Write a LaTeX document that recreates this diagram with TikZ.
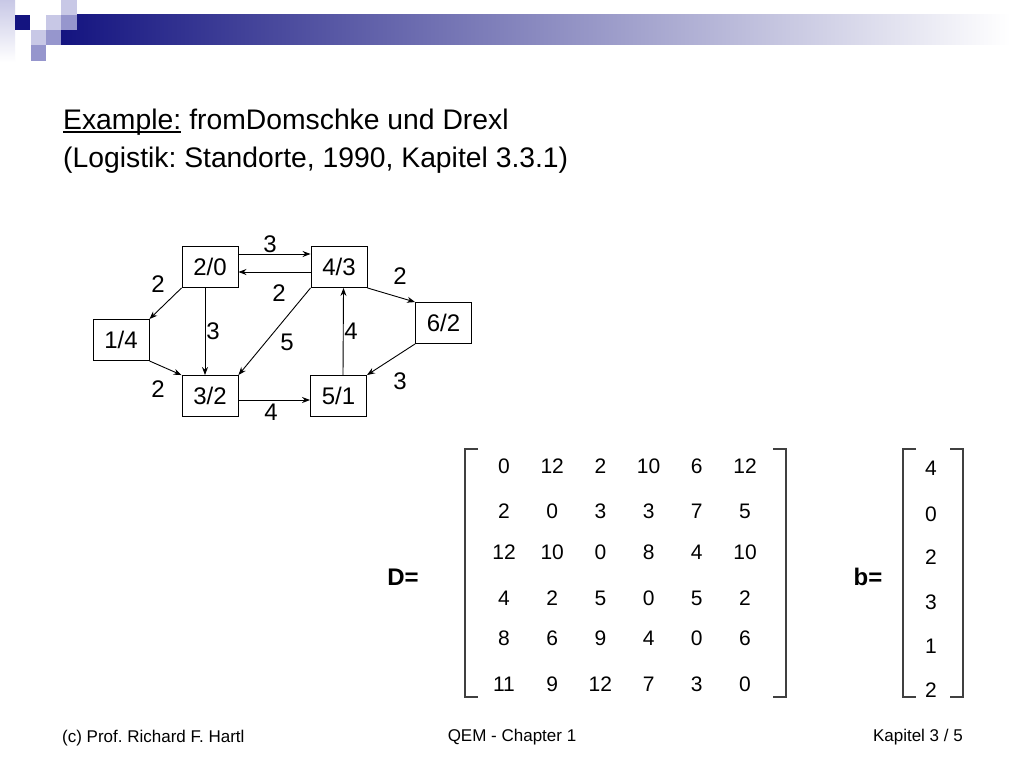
\documentclass[tikz,border=0pt]{standalone}
\usepackage{fontspec}
\setmainfont{Liberation Sans}
\usetikzlibrary{arrows.meta}
\definecolor{navy}{RGB}{20,20,128}
\definecolor{lav}{RGB}{200,200,230}
\definecolor{midlav}{RGB}{150,150,205}
\frenchspacing
\begin{document}
\begin{tikzpicture}[x=1pt,y=-1pt,
  vbox/.style={draw, line width=0.9pt, minimum width=56pt, minimum height=41pt, inner sep=0pt, font=\fontsize{24}{28}\selectfont},
  elab/.style={font=\fontsize{24}{28}\selectfont, inner sep=0pt},
  arc/.style={line width=0.9pt, -{Stealth[length=8pt,width=6pt]}},
  ment/.style={font=\fontsize{21}{24}\selectfont, inner sep=0pt},
  brk/.style={line width=1.2pt, black!75},
  ttl/.style={font=\fontsize{28.3}{32}\selectfont, inner sep=0pt, anchor=base west},
  foot/.style={font=\fontsize{17}{19}\selectfont, inner sep=0pt},
  mlab/.style={font=\bfseries\fontsize{24}{28}\selectfont, inner sep=0pt}
]
\useasboundingbox (0,0) rectangle (1024,768);
\fill[white] (0,0) rectangle (1024,768);
% header decoration
\shade[left color=navy, right color=white] (61,15) rectangle (1010,45);
\shade[top color=lav, bottom color=white] (0,0) rectangle (15,62);
\fill[navy] (15,15) rectangle (30,30);
\fill[lav] (46,15) rectangle (61,30);
\fill[lav] (61,0) rectangle (77,15);
\fill[midlav] (61,15) rectangle (77,30);
\fill[lav] (31,30) rectangle (46,45);
\fill[midlav] (46,30) rectangle (61,45);
\fill[midlav] (31,45) rectangle (46,61);
% title
\node[ttl] (t1a) at (63,129) {Example:};
\node[ttl] (t1b) at ([xshift=7.8pt]t1a.base east) {fromDomschke und Drexl};
\draw[line width=1.3pt] ([yshift=-3pt]t1a.base west) -- ([yshift=-3pt]t1a.base east);
\node[ttl] (t2) at (63,167) {(Logistik: Standorte, 1990, Kapitel 3.3.1)};
% graph nodes
\node[vbox] (n20) at (210,267) {2/0};
\node[vbox] (n43) at (339,267) {4/3};
\node[vbox] (n14) at (121,340) {1/4};
\node[vbox] (n62) at (443.5,323) {6/2};
\node[vbox] (n32) at (210,396) {3/2};
\node[vbox] (n51) at (338.5,396) {5/1};
% edges
\draw[arc] ([yshift=13pt]n20.east) -- ([yshift=13pt]n43.west);
\draw[arc] ([yshift=-5pt]n43.west) -- ([yshift=-5pt]n20.east);
\draw[arc] (n20.south west) -- (n14.north east);
\draw[arc] ([xshift=-5pt]n20.south) -- ([xshift=-5pt]n32.north);
\draw[arc] (n14.south east) -- (n32.north west);
\draw[arc] (n43.south west) -- (n32.north east);
\draw[arc] ([xshift=4.5pt]n51.north) -- ([xshift=4.5pt]n43.south);
\draw[arc] (n43.south east) -- (n62.north west);
\draw[arc] (n62.south west) -- (n51.north east);
\draw[arc] ([yshift=-4pt]n32.east) -- ([yshift=-4pt]n51.west);
% edge labels
\node[elab] (l1) at (270,244) {3};
\node[elab] (l2) at (279,293) {2};
\node[elab] (l3) at (158,284) {2};
\node[elab] (l4) at (213,331) {3};
\node[elab] (l5) at (287,342) {5};
\node[elab] (l6) at (351,331) {4};
\node[elab] (l7) at (400,276) {2};
\node[elab] (l8) at (400,381) {3};
\node[elab] (l9) at (158,389) {2};
\node[elab] (l10) at (271,412) {4};
% matrix D
\node[mlab] (dlab) at (403,577) {D=};
\draw[brk] (478,449) -- (465,449) -- (465,697) -- (478,697);
\draw[brk] (773,449) -- (786,449) -- (786,697) -- (773,697);
\foreach \r/\y/\vals in {1/466/{0,12,2,10,6,12}, 2/511/{2,0,3,3,7,5}, 3/552/{12,10,0,8,4,10}, 4/598/{4,2,5,0,5,2}, 5/638/{8,6,9,4,0,6}, 6/684/{11,9,12,7,3,0}}{
  \foreach \v [count=\c] in \vals {
    \pgfmathsetmacro{\xx}{504+48.2*(\c-1)}
    \node[ment] (d\r\c) at (\xx,\y) {\v};
  }
}
% vector b
\node[mlab] (blab) at (868,577) {b=};
\draw[brk] (916,449) -- (903,449) -- (903,697) -- (916,697);
\draw[brk] (950,449) -- (963,449) -- (963,697) -- (950,697);
\foreach \v/\y [count=\r] in {4/468,0/514,2/557,3/602,1/646,2/690}{
  \node[ment] (b\r) at (931,\y) {\v};
}
% footer
\node[foot, anchor=west] (f1) at (62,738) {(c) Prof. Richard F. Hartl};
\node[foot] (f2) at (512,737) {QEM - Chapter 1};
\node[foot, anchor=east] (f3) at (963,737) {Kapitel 3 / 5};
\end{tikzpicture}
\end{document}
